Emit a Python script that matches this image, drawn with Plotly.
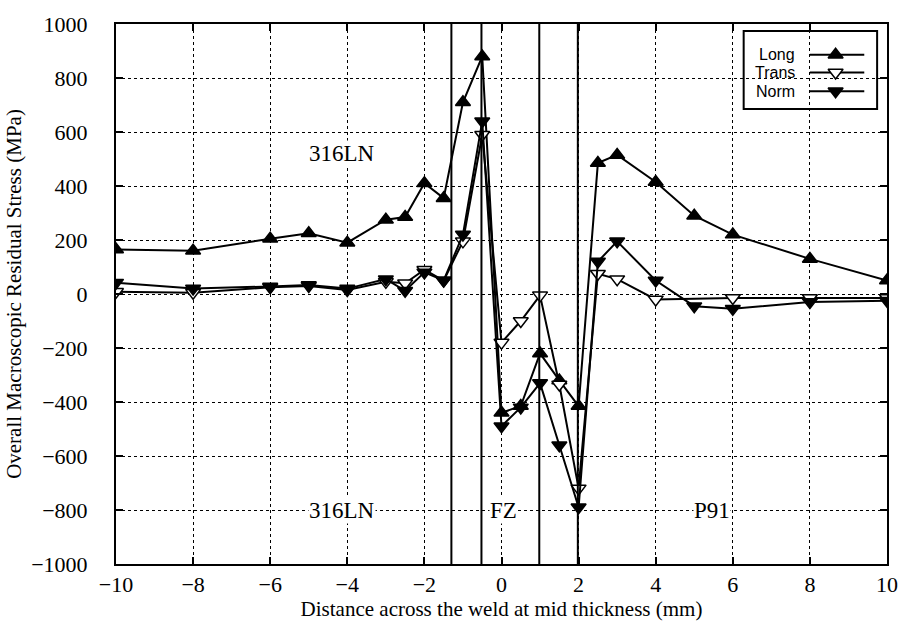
import plotly.graph_objects as go

# ---- data ----
x_long = [-10, -8, -6, -5, -4, -3, -2.5, -2, -1.5, -1, -0.5, 0, 0.5, 1, 1.5, 2, 2.5, 3, 4, 5, 6, 8, 10]
long_vals = [165, 160, 205, 225, 190, 275, 285, 410, 355, 710, 880, -440, -415, -220, -320, -415,
             485, 515, 415, 290, 220, 130, 50]

x_trans = [-10, -8, -6, -5, -4, -3, -2.5, -2, -1.5, -1, -0.5, 0, 0.5, 1, 1.5, 2, 2.5, 3, 4, 6, 8, 10]
trans_vals = [8, 5, 25, 30, 15, 45, 40, 90, 50, 195, 590, -180, -100, -5, -335, -720,
              75, 55, -20, -15, -15, -15]

x_norm = [-10, -8, -6, -5, -4, -3, -2.5, -2, -1.5, -1, -0.5, 0, 0.5, 1, 1.5, 2, 2.5, 3, 4, 5, 6, 8, 10]
norm_vals = [42, 20, 28, 33, 20, 55, 12, 80, 50, 220, 640, -490, -420, -330, -560, -790,
             120, 195, 50, -45, -55, -30, -25]

zone_bounds = [-1.3, -0.52, 0.98, 1.98]

region_labels = ["316LN", "316LN", "FZ", "P91"]
region_x = [-4.13, -4.13, 0.05, 5.47]
region_y = [522, -802, -802, -802]

x_ticks = [-10, -8, -6, -4, -2, 0, 2, 4, 6, 8, 10]
y_ticks = [-1000, -800, -600, -400, -200, 0, 200, 400, 600, 800, 1000]

series_names = ["Long", "Trans", "Norm"]

SERIF = "Liberation Serif"
SANS = "Liberation Sans"

X_RANGE = [-10, 10]
Y_RANGE = [-1000, 1000]
ML, MR, MT, MB, W, H = 110, 20, 21, 59, 910, 626


def px2x(px):
    return X_RANGE[0] + (px - ML) / (W - ML - MR) * (X_RANGE[1] - X_RANGE[0])


def py2y(py):
    return Y_RANGE[1] - (py - MT) / (H - MT - MB) * (Y_RANGE[1] - Y_RANGE[0])


styles = {
    "Long": dict(symbol="triangle-up", color="black"),
    "Trans": dict(symbol="triangle-down", color="white"),
    "Norm": dict(symbol="triangle-down", color="black"),
}

fig = go.Figure()

for name, xs, ys in [("Long", x_long, long_vals), ("Trans", x_trans, trans_vals), ("Norm", x_norm, norm_vals)]:
    st = styles[name]
    fig.add_trace(go.Scatter(
        x=xs, y=ys, mode="lines+markers", name=name, showlegend=False,
        line=dict(color="black", width=2),
        marker=dict(symbol=st["symbol"], size=13, color=st["color"],
                    line=dict(color="black", width=1.5)),
    ))

# manual legend (symbol to the right of the label, as in the original)
leg_rows = [52, 70, 89]
for name, yy in zip(series_names, leg_rows):
    st = styles[name]
    fig.add_trace(go.Scatter(
        x=[px2x(812), px2x(838), px2x(867)], y=[py2y(yy)] * 3, mode="lines",
        showlegend=False, hoverinfo="skip", line=dict(color="black", width=2)))
    fig.add_trace(go.Scatter(
        x=[px2x(838)], y=[py2y(yy)], mode="markers",
        showlegend=False, hoverinfo="skip",
        marker=dict(symbol=st["symbol"], size=13, color=st["color"],
                    line=dict(color="black", width=1.5))))

annotations = []
for name, yy in zip(series_names, leg_rows):
    annotations.append(dict(x=px2x(799), y=py2y(yy), xref="x", yref="y", text=name, showarrow=False,
                            xanchor="right", yanchor="middle",
                            font=dict(family=SANS, size=16, color="black")))

for t, xx, yy in zip(region_labels, region_x, region_y):
    annotations.append(dict(x=xx, y=yy, xref="x", yref="y", text=t, showarrow=False,
                            xanchor="center", yanchor="middle", bgcolor="white",
                            borderpad=0,
                            font=dict(family=SERIF, size=23, color="black")))

shapes = []
for xb in zone_bounds:
    shapes.append(dict(type="line", xref="x", yref="paper", x0=xb, x1=xb, y0=0, y1=1,
                       line=dict(color="black", width=2)))
shapes.append(dict(type="rect", xref="x", yref="y", x0=px2x(745), x1=px2x(880),
                   y0=py2y(28), y1=py2y(107),
                   line=dict(color="black", width=2), fillcolor="white", layer="below"))

fig.update_layout(
    width=W, height=H,
    margin=dict(l=ML, r=MR, t=MT, b=MB),
    paper_bgcolor="white", plot_bgcolor="white",
    annotations=annotations,
    shapes=shapes,
)

fig.update_xaxes(
    range=X_RANGE, tickmode="array", tickvals=x_ticks,
    ticks="inside", ticklen=7, tickwidth=1.5, tickcolor="black",
    showline=True, linecolor="black", linewidth=2, mirror="ticks",
    showgrid=True, gridcolor="black", griddash="dot", gridwidth=1,
    zeroline=False, fixedrange=True,
    title_text="Distance across the weld at mid thickness (mm)",
    title_font=dict(family=SERIF, size=21, color="black"), title_standoff=2,
    tickfont=dict(family=SERIF, size=22, color="black"),
)
fig.update_yaxes(
    range=Y_RANGE, tickmode="array", tickvals=y_ticks,
    ticks="inside", ticklen=7, tickwidth=1.5, tickcolor="black",
    showline=True, linecolor="black", linewidth=2, mirror="ticks",
    showgrid=True, gridcolor="black", griddash="dot", gridwidth=1,
    zeroline=False, fixedrange=True, ticklabelstandoff=22,
    title_text="Overall Macroscopic Residual Stress (MPa)",
    title_font=dict(family=SERIF, size=21, color="black"), title_standoff=4,
    tickfont=dict(family=SERIF, size=22, color="black"),
)

fig.write_html("out.html")
